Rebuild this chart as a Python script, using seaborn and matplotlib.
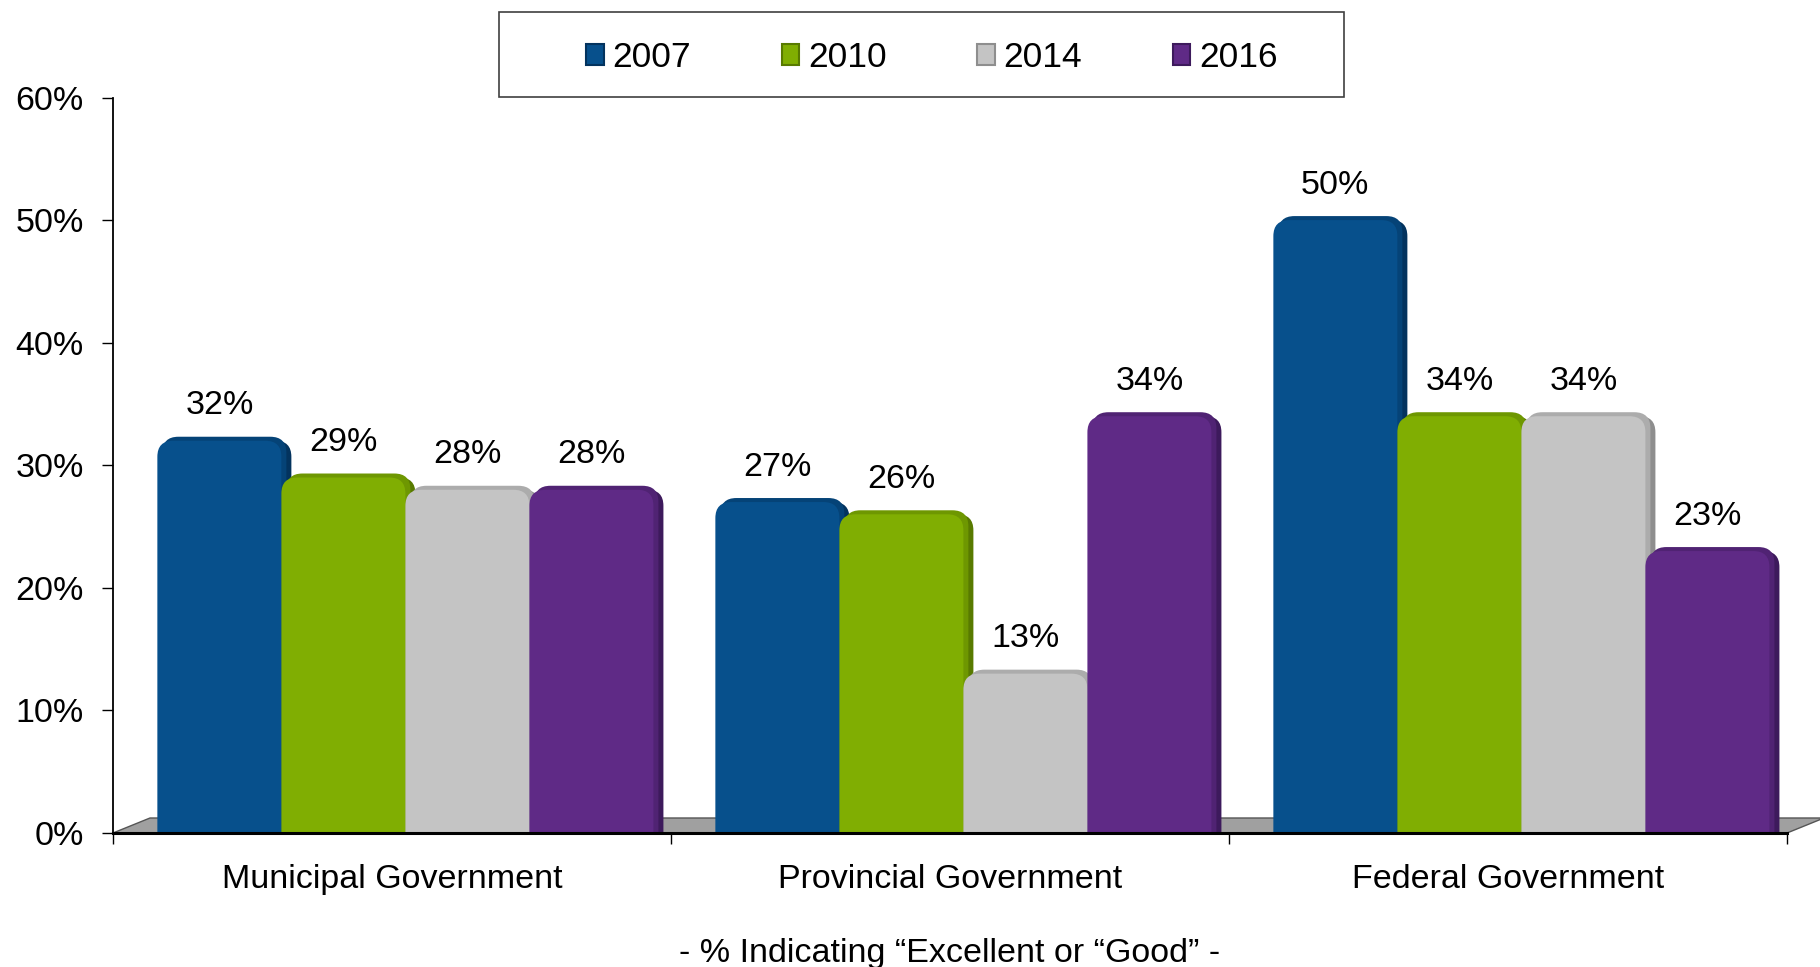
import matplotlib
matplotlib.use("Agg")
import matplotlib.pyplot as plt
from matplotlib.patches import FancyBboxPatch, Polygon, Rectangle, Patch
import matplotlib.colors as mcolors
import numpy as np
import seaborn as sns
import pandas as pd

# ---- data ----
categories = ["Municipal Government", "Provincial Government", "Federal Government"]
years = ["2007", "2010", "2014", "2016"]
v2007 = [32, 27, 50]
v2010 = [29, 26, 34]
v2014 = [28, 13, 34]
v2016 = [28, 34, 23]
yticks = [0, 10, 20, 30, 40, 50, 60]
caption = "- % Indicating \u201cExcellent or \u201cGood\u201d -"

front_colors = ["#07508C", "#80AE02", "#C4C4C4", "#5F2A86"]
side_colors = ["#03335E", "#587A00", "#8E8E8E", "#3D1A5C"]

rows = []
for yr, vals in zip(years, [v2007, v2010, v2014, v2016]):
    for c, v in zip(categories, vals):
        rows.append({"category": c, "year": yr, "value": v})
df = pd.DataFrame(rows)

sns.set_theme(style="white")
plt.rcParams["font.family"] = ["Liberation Sans", "DejaVu Sans"]
plt.rcParams["text.color"] = "black"
plt.rcParams["xtick.color"] = "black"
plt.rcParams["ytick.color"] = "black"
plt.rcParams["xtick.labelcolor"] = "black"
plt.rcParams["ytick.labelcolor"] = "black"

FS = 24.5

fig = plt.figure(figsize=(18.2, 9.67), dpi=100)
ax = fig.add_axes([113 / 1820, 134 / 967, 1674 / 1820, 735.5 / 967])

sns.barplot(data=df, x="category", y="value", hue="year", hue_order=years,
            order=categories, palette=front_colors, width=0.889, gap=0,
            saturation=1, legend=False, ax=ax, errorbar=None)

bars = [p for p in ax.patches if isinstance(p, Rectangle)]
bars = sorted(bars, key=lambda p: p.get_x())

ax.set_xlim(-0.5, 2.5)
ax.set_ylim(0, 60)
fig.canvas.draw()
bb = ax.get_window_extent()
px_x = bb.width / 3.0
px_y = bb.height / 60.0
aspect = px_x / px_y

# floor (3D base)
fdx = 37 / px_x
fdy = 15 / px_y
floor = Polygon([(-0.5, 0), (2.5, 0), (2.5 + fdx, fdy), (-0.5 + fdx, fdy)],
                closed=True, facecolor="#A0A0A0", edgecolor="#555555",
                linewidth=1.0, clip_on=False, zorder=1.5)
ax.add_patch(floor)

shift = 0.024
depth_x = 10 / px_x
depth_y = 8 / px_y
r = 16 / px_x


def blend(c1, c2, t):
    a = np.array(mcolors.to_rgb(c1))
    b = np.array(mcolors.to_rgb(c2))
    return tuple(a * (1 - t) + b * t)


for i, p in enumerate(bars):
    k = i % len(years)
    x, w, h = p.get_x() + shift, p.get_width(), p.get_height()
    fc = front_colors[k]
    sc = side_colors[k]
    p.set_visible(False)
    z = 2 + i * 0.01
    side = FancyBboxPatch((x + depth_x, -5), w, h + 5,
                          boxstyle=f"round,pad=0,rounding_size={r}",
                          mutation_aspect=aspect, facecolor=sc,
                          edgecolor="none", zorder=z)
    ax.add_patch(side)
    top = FancyBboxPatch((x + depth_x * 0.5, -5), w, h + 5 + depth_y * 0.5,
                         boxstyle=f"round,pad=0,rounding_size={r}",
                         mutation_aspect=aspect, facecolor=blend(fc, sc, 0.45),
                         edgecolor="none", zorder=z + 0.001)
    ax.add_patch(top)
    front = FancyBboxPatch((x, -5), w, h + 5,
                           boxstyle=f"round,pad=0,rounding_size={r}",
                           mutation_aspect=aspect, facecolor=fc,
                           edgecolor="none", zorder=z + 0.002)
    ax.add_patch(front)
    ax.text(x + w / 2, h + 2.15, f"{h:.0f}%", ha="center", va="baseline",
            fontsize=FS, color="black", zorder=5)

# axes styling
for s in ["top", "right"]:
    ax.spines[s].set_visible(False)
ax.spines["left"].set_color("black")
ax.spines["left"].set_linewidth(1.3)
ax.spines["bottom"].set_color("black")
ax.spines["bottom"].set_linewidth(2.2)
ax.spines["bottom"].set_zorder(6)
ax.spines["left"].set_zorder(1)

ax.set_yticks(yticks)
ax.set_yticklabels([f"{t}%" for t in yticks], fontsize=FS)
ax.tick_params(axis="y", which="major", direction="out", length=8, width=1,
               color="black", labelcolor="black", pad=13, left=True)
ax.set_xticks([-0.5, 0.5, 1.5, 2.5])
ax.set_xticklabels([])
ax.set_xticks([0, 1, 2], minor=True)
ax.set_xticklabels(categories, minor=True, fontsize=FS)
ax.tick_params(axis="x", which="major", direction="out", length=8, width=1,
               color="black", bottom=True)
ax.tick_params(axis="x", which="minor", length=0, pad=22, labelcolor="black")
ax.set_xlabel("")
ax.set_ylabel("")
ax.grid(False)

# legend
handles = [Patch(facecolor=fc, edgecolor=sc, linewidth=1.5, label=yr)
           for fc, sc, yr in zip(front_colors, side_colors, years)]
fig.legend(handles=handles, loc="center", bbox_to_anchor=(0.512, 0.9405),
           ncol=4, frameon=False, fontsize=25.5, handlelength=0.5,
           handleheight=0.5, handletextpad=0.25, columnspacing=2.55,
           labelcolor="black")
fig.patches.append(Rectangle((499 / 1820, 1 - 97 / 967), 845 / 1820, 85 / 967,
                             transform=fig.transFigure, facecolor="none",
                             edgecolor="#404040", linewidth=1.2))

fig.text(950 / 1820, 5 / 967, caption, ha="center", va="baseline",
         fontsize=FS, color="black")

fig.savefig("out.png", dpi=100)
